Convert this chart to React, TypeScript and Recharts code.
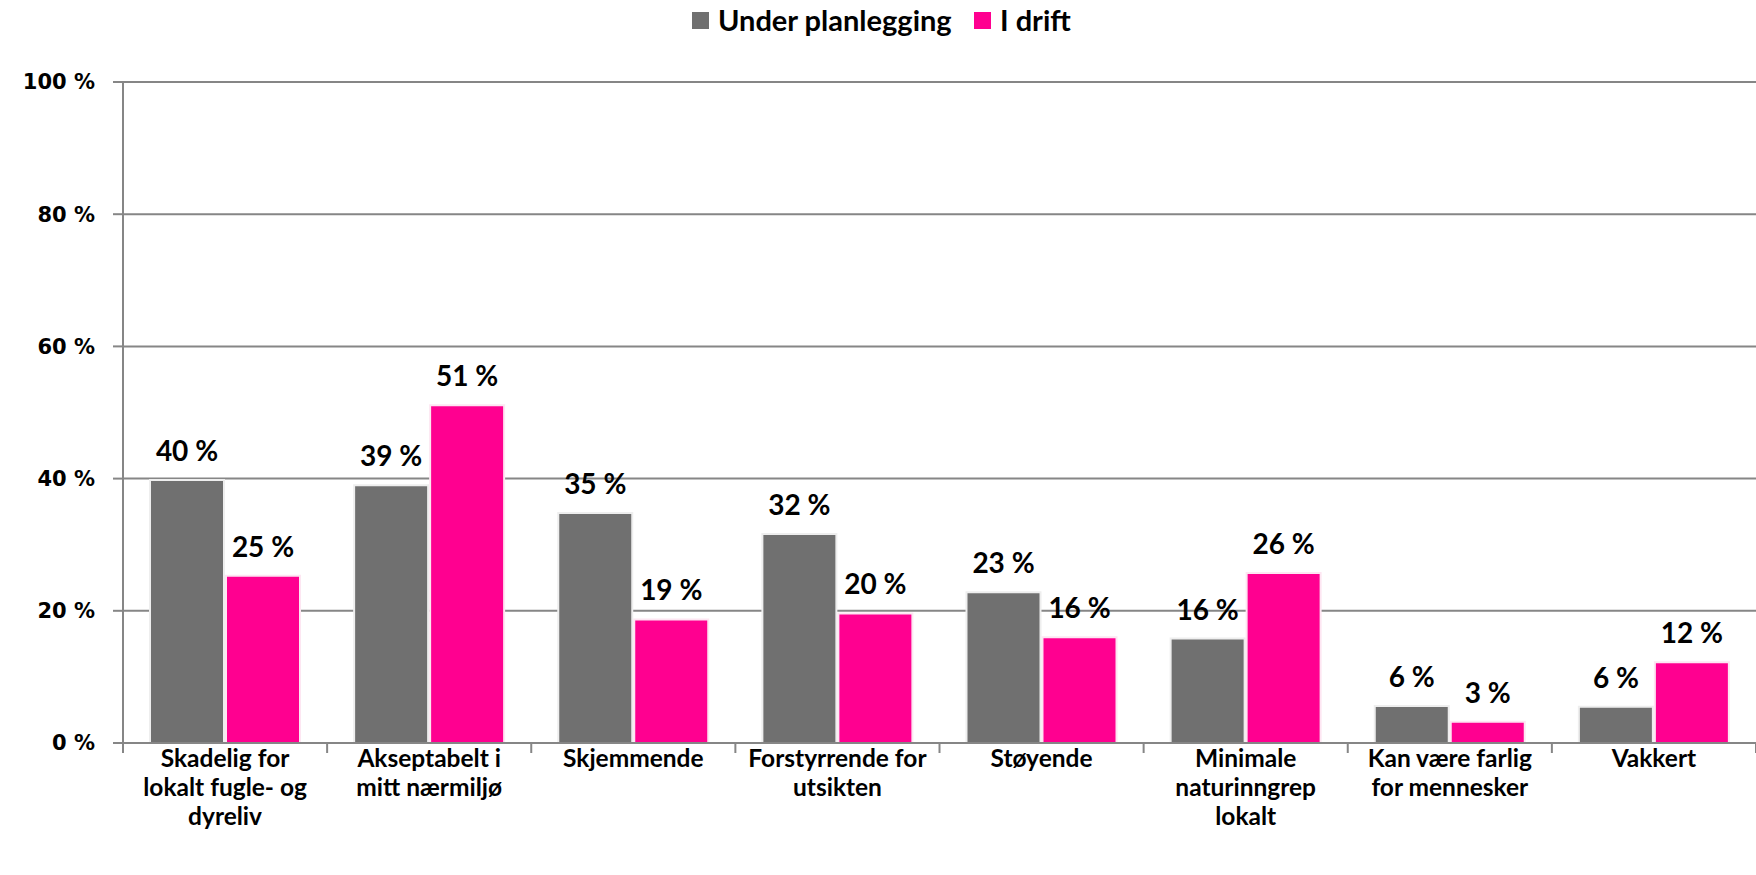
import { BarChart, Bar, XAxis, YAxis, CartesianGrid, LabelList } from "recharts";

const categories = [
  "Skadelig for\nlokalt fugle- og\ndyreliv",
  "Akseptabelt i\nmitt nærmiljø",
  "Skjemmende",
  "Forstyrrende for\nutsikten",
  "Støyende",
  "Minimale\nnaturinngrep\nlokalt",
  "Kan være farlig\nfor mennesker",
  "Vakkert",
];
const underPlanlegging = [39.8, 39.0, 34.8, 31.6, 22.8, 15.8, 5.6, 5.5];
const iDrift = [25.3, 51.1, 18.7, 19.6, 16.0, 25.7, 3.2, 12.2];
const yTicks = [0, 20, 40, 60, 80, 100];

const GREY = "#707070";
const PINK = "#ff0090";
const AXIS = "#868686";
const LABEL_FONT = "Lato, 'Open Sans', sans-serif";

const data = categories.map((name, i) => ({
  name,
  under: underPlanlegging[i],
  drift: iDrift[i],
}));

function CategoryTick(props: any) {
  const { x, y, payload, index } = props;
  const half = payload?.offset ?? 102;
  const lines = String(payload.value).split("\n");
  return (
    <g>
      <line x1={x - half} y1={y} x2={x - half} y2={y + 10} stroke={AXIS} strokeWidth={2} />
      {index === categories.length - 1 && (
        <line x1={x + half} y1={y} x2={x + half} y2={y + 10} stroke={AXIS} strokeWidth={2} />
      )}
      {lines.map((l, i) => (
        <text
          key={i}
          x={x}
          y={y + 24 + i * 29}
          textAnchor="middle"
          fill="#000"
          fontFamily={LABEL_FONT}
          fontWeight={700}
          fontSize={24.5}
        >
          {l}
        </text>
      ))}
    </g>
  );
}

function LegendBox() {
  const item = (color: string, label: string, left: number) => (
    <div style={{ position: "absolute", left, top: 3, display: "flex", alignItems: "center" }}>
      <span style={{ width: 17, height: 17, background: color, display: "inline-block", marginRight: 9 }} />
      <span style={{ fontFamily: LABEL_FONT, fontWeight: 700, fontSize: 29, color: "#000", lineHeight: "34px" }}>
        {label}
      </span>
    </div>
  );
  return (
    <>
      {item(GREY, "Under planlegging", 692)}
      {item(PINK, "I drift", 974)}
    </>
  );
}

export default function App() {
  return (
    <div style={{ position: "absolute", left: 0, top: 0, width: 1756, height: 875, background: "#fff" }}>
      <LegendBox />
      <BarChart
        width={1756}
        height={875}
        data={data}
        margin={{ top: 82, right: 0, bottom: 0, left: 0 }}
        barCategoryGap={27}
        barGap={2}
      >
        <CartesianGrid vertical={false} stroke={AXIS} strokeWidth={2} />
        <XAxis
          dataKey="name"
          interval={0}
          height={132}
          tickLine={false}
          tickSize={0}
          tickMargin={0}
          axisLine={{ stroke: AXIS, strokeWidth: 2 }}
          tick={<CategoryTick />}
        />
        <YAxis
          width={123}
          domain={[0, 100]}
          ticks={yTicks}
          tickFormatter={(v: number) => `${v} %`}
          tickSize={10}
          tickMargin={18}
          tickLine={{ stroke: AXIS, strokeWidth: 2 }}
          axisLine={{ stroke: AXIS, strokeWidth: 2 }}
          tick={{ fill: "#000", fontFamily: "'DejaVu Sans', sans-serif", fontWeight: 700, fontSize: 21 }}
        />
        <Bar dataKey="under" name="Under planlegging" fill={GREY} stroke="#eeeeee" strokeWidth={2} isAnimationActive={false}>
          <LabelList
            dataKey="under"
            position="top"
            offset={19}
            formatter={(v: any) => `${Math.round(Number(v))} %`}
            fill="#000"
            fontFamily={LABEL_FONT}
            fontWeight={700}
            fontSize={28}
          />
        </Bar>
        <Bar dataKey="drift" name="I drift" fill={PINK} stroke="#fde6f2" strokeWidth={2} isAnimationActive={false}>
          <LabelList
            dataKey="drift"
            position="top"
            offset={19}
            formatter={(v: any) => `${Math.round(Number(v))} %`}
            fill="#000"
            fontFamily={LABEL_FONT}
            fontWeight={700}
            fontSize={28}
          />
        </Bar>
      </BarChart>
    </div>
  );
}
